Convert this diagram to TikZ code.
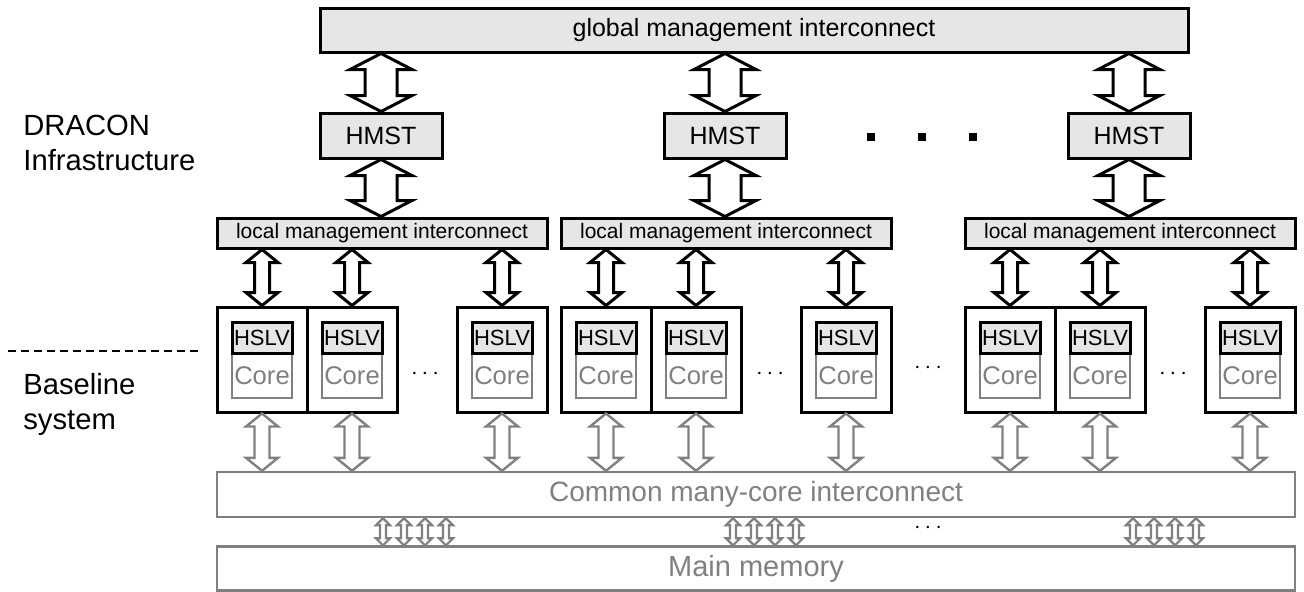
\documentclass[tikz,border=0pt]{standalone}
\usepackage{fontspec}
\setmainfont{Liberation Sans}
\usepackage{tikz}
\usetikzlibrary{calc, positioning}
\definecolor{boxgray}{RGB}{230,230,230}
\definecolor{basegray}{RGB}{128,128,128}
\tikzset{
  mgmtbox/.style={rectangle, draw=black, line width=1.5pt, fill=boxgray, inner sep=0pt, font=\fontsize{12.5}{15}\selectfont},
  localbox/.style={mgmtbox, minimum width=165pt, minimum height=15pt, font=\fontsize{10.5}{12}\selectfont},
  tilebox/.style={rectangle, draw=black, line width=1.5pt, fill=white, minimum width=45pt, minimum height=52.5pt},
  hslvbox/.style={rectangle, draw=black, line width=1.5pt, fill=boxgray, minimum width=30pt, minimum height=15.5pt, inner sep=0pt, font=\fontsize{11}{12}\selectfont},
  corebox/.style={rectangle, draw=basegray, line width=1.2pt, text=basegray, minimum width=30pt, minimum height=22.5pt, inner sep=0pt, font=\fontsize{12.8}{14}\selectfont},
  basebox/.style={rectangle, draw=basegray, line width=1.2pt, text=basegray, minimum width=539pt, inner sep=0pt, font=\fontsize{14}{16}\selectfont},
  mgmtarrow/.style={draw=black, line width=1.5pt, fill=white},
  basearrow/.style={draw=basegray, line width=1.2pt, fill=white},
  sidelabel/.style={align=left, anchor=north west, inner sep=0pt, font=\fontsize{14.6}{17.5}\selectfont},
  dotlabel/.style={inner sep=0pt, font=\fontsize{13}{14}\selectfont}
}
% fat double arrow: style, top tip, bottom tip, half head, half shaft, head length
\newcommand{\dblarrow}[6]{%
  \draw[#1] (#2) -- ++(#4,#6) -- ++({#5-#4},0) -- ($(#3)+(#5,-#6)$) -- ++({#4-#5},0)
    -- (#3) -- ++(-#4,-#6) -- ++({#4-#5},0) -- ($(#2)+(-#5,#6)$) -- ++({#5-#4},0) -- cycle;}

\begin{document}
\begin{tikzpicture}[x=0.5pt, y=-0.5pt]
  \useasboundingbox (0,0) rectangle (1304,591);

  % DRACON management layer
  \node[mgmtbox, minimum width=434pt, minimum height=22pt] (global) at (754,30) {global management interconnect};
  \foreach \i/\x in {1/381, 2/725, 3/1129}
    \node[mgmtbox, minimum width=61pt, minimum height=22.5pt] (hmst\i) at (\x,135.5) {HMST};
  \foreach \i/\x in {1/871, 2/922, 3/973}
    \node[fill=black, minimum size=4pt, inner sep=0pt] (sq\i) at (\x,137) {};

  % clusters of tiles
  \foreach \i/\l in {1/217, 2/561, 3/965}{
    \node[localbox] (lmi\i) at (\l+165,233) {local management interconnect};
    \foreach \k/\dx in {1/45, 2/135, 3/285}{
      \node[tilebox] (tile\i\k) at (\l+\dx,359.5) {};
      \node[corebox] (core\i\k) at (\l+\dx,375.5) {Core};
      \node[hslvbox] (hslv\i\k) at (\l+\dx,337.5) {HSLV};
    }
  }
  \node[dotlabel] (dots1) at (425,374) {$\cdots$};
  \node[dotlabel] (dots2) at (770,374) {$\cdots$};
  \node[dotlabel] (dots3) at (1173,374) {$\cdots$};
  \node[dotlabel] (dots4) at (928,368) {$\cdots$};

  % baseline system
  \node[basebox, minimum height=22.5pt] (common) at (756,494.5) {Common many-core interconnect};
  \node[basebox, minimum height=22pt, font=\fontsize{14.5}{16}\selectfont] (mem) at (756,568.5) {Main memory};
  \node[dotlabel] (dots5) at (928,528) {$\cdots$};

  % left side
  \node[sidelabel] (dracon) at (23,115) {DRACON\\Infrastructure};
  \node[sidelabel] (baseline) at (23,373) {Baseline\\system};
  \coordinate (sepl) at (8,351);
  \coordinate (sepr) at (200,351);
  \draw[line width=1pt, dash pattern=on 4pt off 2.5pt] (sepl) -- (sepr);

  % management links
  \foreach \i in {1,2,3}{
    \coordinate (gtop\i) at (hmst\i |- global.south);
    \dblarrow{mgmtarrow}{gtop\i}{hmst\i.north}{31}{16}{16}
    \coordinate (lbot\i) at (hmst\i.south |- lmi\i.north);
    \dblarrow{mgmtarrow}{hmst\i.south}{lbot\i}{31}{16}{16}
    \foreach \k in {1,2,3}{
      \coordinate (ltop\i\k) at (tile\i\k.north |- lmi\i.south);
      \dblarrow{mgmtarrow}{ltop\i\k}{tile\i\k.north}{16}{7.5}{13}
      \coordinate (cbot\i\k) at (tile\i\k.south |- common.north);
      \dblarrow{basearrow}{tile\i\k.south}{cbot\i\k}{16}{7.5}{13}
    }
  }

  % memory links
  \foreach \x in {383,404,425,446,733,754,775,796,1133,1154,1175,1196}{
    \coordinate (mx) at (\x,0);
    \coordinate (mtop) at (mx |- common.south);
    \coordinate (mbot) at (mx |- mem.north);
    \dblarrow{basearrow, line width=1.1pt}{mtop}{mbot}{7}{3}{7}
  }
\end{tikzpicture}
\end{document}
